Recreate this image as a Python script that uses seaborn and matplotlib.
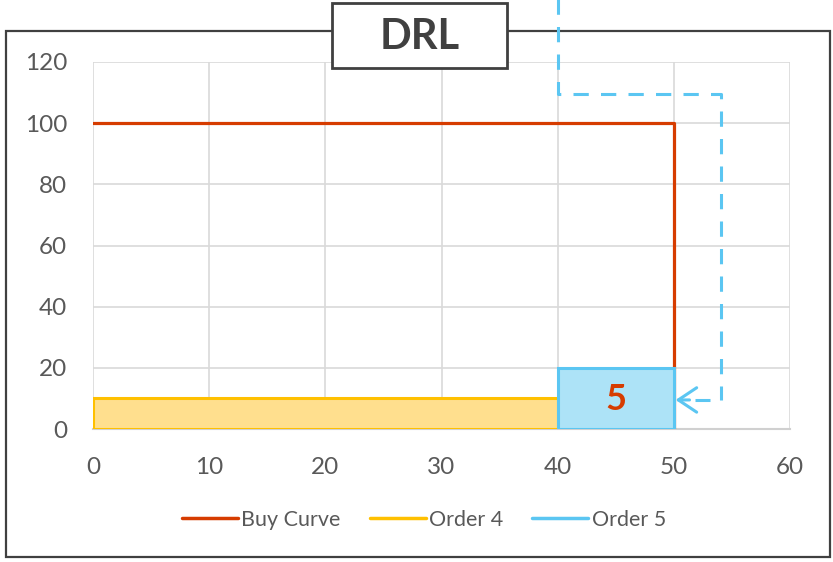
import matplotlib
matplotlib.use("Agg")
import matplotlib.pyplot as plt
import seaborn as sns
import pandas as pd
from matplotlib.lines import Line2D
from matplotlib.patches import Rectangle

# ---- data ----
buy_x = [0, 50, 50]
buy_y = [100, 100, 0]
order_names = ["Order 4", "Order 5"]
order_start = [0, 40]
order_end = [40, 50]
order_price = [10, 20]
order_label = ["", "5"]
x_ticks = [0, 10, 20, 30, 40, 50, 60]
y_ticks = [0, 20, 40, 60, 80, 100, 120]
title = "DRL"
arrow_path_x = [40, 40, 54.1, 54.1]
arrow_path_y = [142, 109.4, 109.4, 9.5]
arrow_dash_x = [51.8, 53.1]
arrow_tip_x = 50.15

RED = "#D63C00"
YEL = "#FFC000"
YEL_F = "#FFDF8E"
BLU = "#5BC6F2"
BLU_F = "#ADE3F7"
TXT = "#595959"
DARK = "#404040"

sns.set_theme(style="white")
plt.rcParams["font.family"] = ["Lato", "DejaVu Sans"]

fig = plt.figure(figsize=(8.33, 5.62), dpi=100)
ax = fig.add_axes([93/833, 1-429/562, (790-93)/833, (429-62)/562])

# outer frame
fig.add_artist(Rectangle((6/833, 1-557/562), (830-6)/833, (557-31)/562,
                         transform=fig.transFigure, fill=False,
                         edgecolor=DARK, lw=1.6, zorder=0))

# order rectangles
edges = [YEL, BLU]
fills = [YEL_F, BLU_F]
for i in range(len(order_names)):
    ax.add_patch(Rectangle((order_start[i], 0), order_end[i]-order_start[i],
                           order_price[i], facecolor=fills[i],
                           edgecolor=edges[i], lw=2.2, zorder=4))
    if order_label[i]:
        ax.text((order_start[i]+order_end[i])/2, order_price[i]/2 - 0.5,
                order_label[i], ha="center", va="center", color=RED,
                fontsize=26, fontweight="bold", zorder=6)

df = pd.DataFrame({"x": buy_x, "y": buy_y})
sns.lineplot(data=df, x="x", y="y", sort=False, color=RED, lw=2.3, ax=ax,
             zorder=3, estimator=None)

# dashed annotation path
ax.plot(arrow_path_x, arrow_path_y, color=BLU, lw=2.2,
        dashes=(5, 4), clip_on=False, zorder=5)
ax.plot(arrow_dash_x, [arrow_path_y[-1]] * 2, color=BLU, lw=2.2,
        solid_capstyle="butt", clip_on=False, zorder=5)
ax.annotate("", xy=(arrow_tip_x, arrow_path_y[-1]),
            xytext=(arrow_tip_x + 1.2, arrow_path_y[-1]),
            arrowprops=dict(arrowstyle="->, head_length=0.6, head_width=0.4",
                            color=BLU, lw=2.2, mutation_scale=22,
                            shrinkA=0, shrinkB=0),
            annotation_clip=False, zorder=5)

ax.set_xlim(0, 60)
ax.set_ylim(0, 120)
ax.set_xticks(x_ticks)
ax.set_yticks(y_ticks)
ax.set_xticklabels([str(t) for t in x_ticks])
ax.set_yticklabels([str(t) for t in y_ticks])
ax.tick_params(axis="x", length=0, pad=20, labelsize=17.5, labelcolor=TXT)
ax.tick_params(axis="y", length=0, pad=18.5, labelsize=17.5, labelcolor=TXT)
ax.grid(True, color="#D9D9D9", lw=1.2)
ax.set_axisbelow(True)
for s in ["top", "right", "left"]:
    ax.spines[s].set_visible(False)
ax.spines["bottom"].set_color("#D0D0D0")
ax.spines["bottom"].set_linewidth(1.5)
ax.set_xlabel("")
ax.set_ylabel("")
ax.patch.set_alpha(0)

# title box
fig.add_artist(Rectangle((332/833, 1-68/562), (507-332)/833, (68-3)/562,
                         transform=fig.transFigure, facecolor="white",
                         edgecolor=DARK, lw=2, zorder=10))
fig.text(419.5/833, 1-37/562, title, ha="center", va="center",
         fontsize=30, fontweight="bold", color=DARK, zorder=11)

handles = [Line2D([], [], color=RED, lw=2.5),
           Line2D([], [], color=YEL, lw=2.5),
           Line2D([], [], color=BLU, lw=2.5)]
fig.legend(handles, ["Buy Curve"] + order_names, loc="center",
           bbox_to_anchor=(0.509, 1-520/562), ncol=3, frameon=False,
           fontsize=15.5, handlelength=2.6, handletextpad=0.15,
           columnspacing=1.35, labelcolor=TXT)

fig.savefig("out.png", dpi=100)
